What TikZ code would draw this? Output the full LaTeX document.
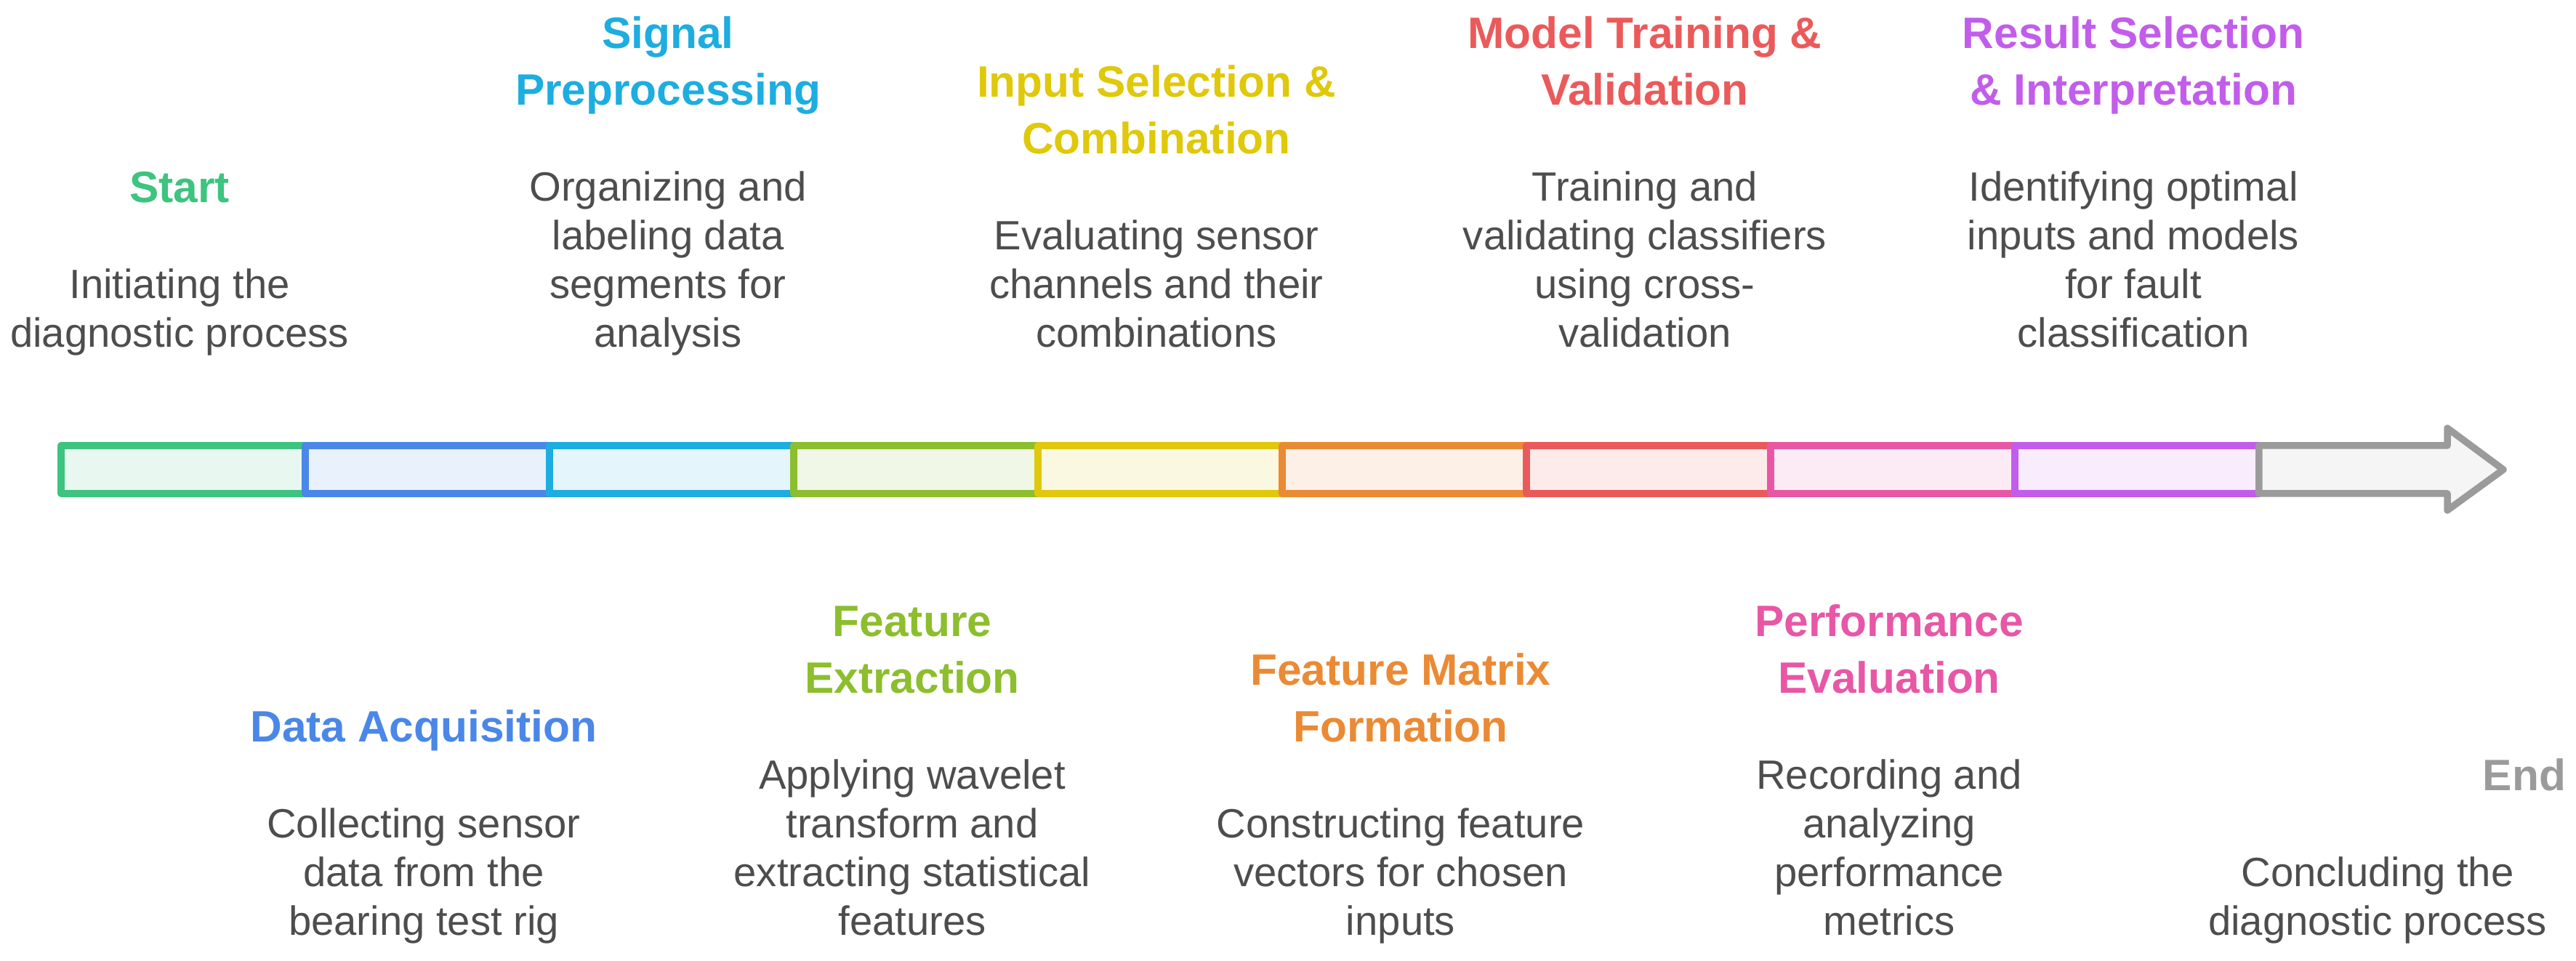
\documentclass[tikz,border=0pt]{standalone}
\usepackage{fontspec}
\setmainfont{Liberation Sans}
\usetikzlibrary{positioning}

\definecolor{startc}{HTML}{3DC47E}
\definecolor{acqc}{HTML}{4A87E8}
\definecolor{prepc}{HTML}{1DADE0}
\definecolor{featc}{HTML}{8CBE2E}
\definecolor{inputc}{HTML}{E0C80A}
\definecolor{matrixc}{HTML}{EB8A34}
\definecolor{trainc}{HTML}{EB5A5A}
\definecolor{perfc}{HTML}{E857A6}
\definecolor{resultc}{HTML}{C25DEB}
\definecolor{endc}{HTML}{9B9B9B}
\definecolor{descc}{HTML}{4D4D4D}

\begin{document}
\begin{tikzpicture}[
            seg/.style={line width=2.7pt, line join=round},
            desc/.style={anchor=south, inner sep=0pt, align=center, text=descc,
                font=\fontsize{16pt}{19.06pt}\selectfont,
                execute at end node={\vphantom{g}}},
            title/.style={inner sep=0pt, align=center,
                font=\bfseries\fontsize{17.2pt}{22.2pt}\selectfont,
                execute at end node={\vphantom{g}}}]
            \useasboundingbox (0,0) rectangle (35.44,13.22);
            % timeline bar
            \foreach \c [count=\i from 0] in {startc,acqc,prepc,featc,inputc,matrixc,trainc,perfc,resultc}
                \draw[seg, draw=\c, fill=\c!12] ({0.838+3.36*\i},6.43) rectangle ++(3.36,0.66);
            \draw[seg, draw=endc, fill=endc!10] (31.078,7.09) -- (33.67,7.09) -- (33.67,7.33)
                -- (34.44,6.76) -- (33.67,6.20) -- (33.67,6.43) -- (31.078,6.43) -- cycle;
            % steps above the bar
            \node[desc] (d1) at (2.47,8.32) {Initiating the\\diagnostic process};
            \node[title, text=startc, above=0.77cm of d1] (t1) {Start};
            \node[desc] (d3) at (9.19,8.32) {Organizing and\\labeling data\\segments for\\analysis};
            \node[title, text=prepc, above=0.77cm of d3] (t3) {Signal\\Preprocessing};
            \node[desc] (d5) at (15.91,8.32) {Evaluating sensor\\channels and their\\combinations};
            \node[title, text=inputc, above=0.77cm of d5] (t5) {Input Selection \&\\Combination};
            \node[desc] (d7) at (22.63,8.32) {Training and\\validating classifiers\\using cross-\\validation};
            \node[title, text=trainc, above=0.77cm of d7] (t7) {Model Training \&\\Validation};
            \node[desc] (d9) at (29.35,8.32) {Identifying optimal\\inputs and models\\for fault\\classification};
            \node[title, text=resultc, above=0.77cm of d9] (t9) {Result Selection\\\& Interpretation};
            % steps below the bar
            \node[desc] (d2) at (5.83,0.23) {Collecting sensor\\data from the\\bearing test rig};
            \node[title, text=acqc, above=0.77cm of d2] (t2) {Data Acquisition};
            \node[desc] (d4) at (12.55,0.23) {Applying wavelet\\transform and\\extracting statistical\\features};
            \node[title, text=featc, above=0.77cm of d4] (t4) {Feature\\Extraction};
            \node[desc] (d6) at (19.27,0.23) {Constructing feature\\vectors for chosen\\inputs};
            \node[title, text=matrixc, above=0.77cm of d6] (t6) {Feature Matrix\\Formation};
            \node[desc] (d8) at (25.99,0.23) {Recording and\\analyzing\\performance\\metrics};
            \node[title, text=perfc, above=0.77cm of d8] (t8) {Performance\\Evaluation};
            \node[desc] (d10) at (32.71,0.23) {Concluding the\\diagnostic process};
            \node[title, text=endc, above=0.77cm of d10, xshift=2.02cm] (t10) {End};
        \end{tikzpicture}
\end{document}
